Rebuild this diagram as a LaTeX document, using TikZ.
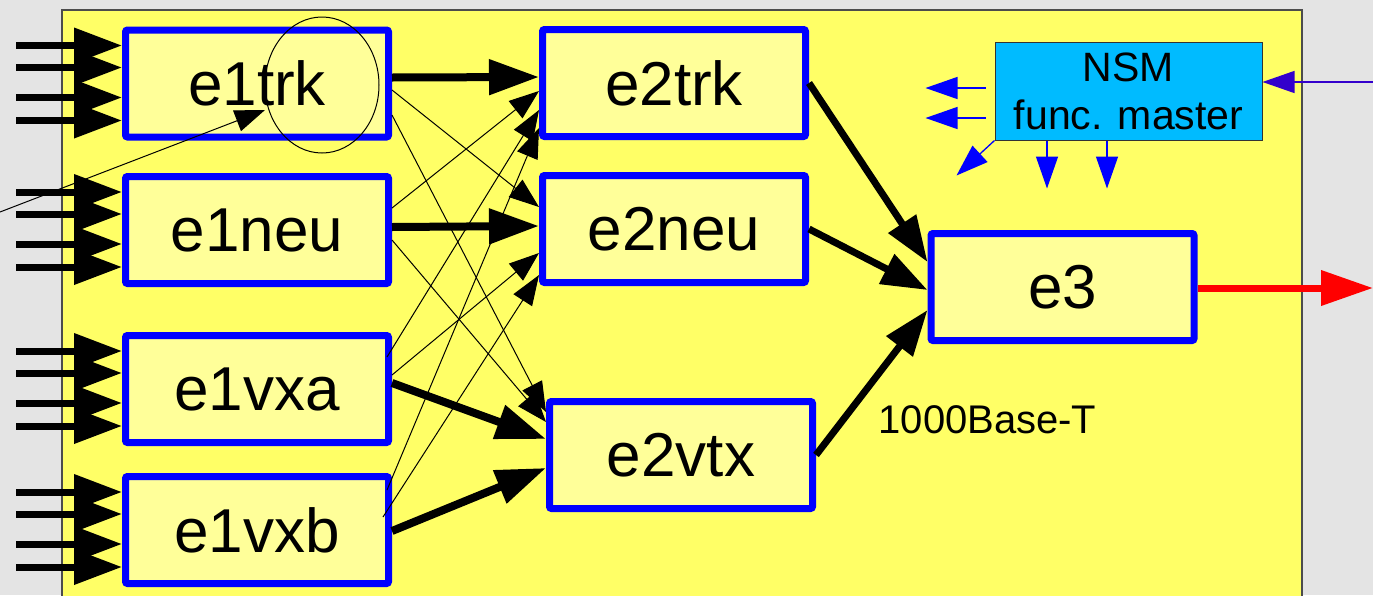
\documentclass[tikz,border=0pt]{standalone}
\usepackage{fontspec}
\setmainfont{Liberation Sans}
\usetikzlibrary{arrows.meta}
\definecolor{slate} {HTML}{E4E4E4}
\definecolor{panelY}{HTML}{FFFF66}
\definecolor{boxY}  {HTML}{FFFF99}
\definecolor{boxB}  {HTML}{0000FF}
\definecolor{nsmC}  {HTML}{00BBFF}
\definecolor{ctlIn} {HTML}{3300CC}

\begin{document}
\begin{tikzpicture}[
  x=1pt,y=-1pt,
  font=\fontsize{62}{70}\selectfont,
  box/.style={draw=boxB,line width=7pt,fill=boxY,rounded corners=2pt,
              minimum width=263pt,minimum height=107pt,inner sep=0pt},
  nsmbox/.style={draw=black!80,line width=1pt,fill=nsmC,align=center,
              minimum width=267pt,minimum height=98pt,inner sep=0pt,
              font=\fontsize{41}{48}\selectfont},
  panel/.style={fill=panelY,draw=black!70,line width=1.5pt},
  inarr/.style={line width=7pt,-{Triangle[length=48pt,width=34pt]}},
  link/.style={line width=8pt,-{Triangle[length=50pt,width=34pt]}},
  uplink/.style={line width=7pt,-{Triangle[length=46pt,width=32pt]}},
  xlink/.style={line width=1pt,-{Triangle[length=30pt,width=22pt]}},
  ctl/.style={draw=boxB,line width=1.3pt,-{Triangle[length=32pt,width=22pt]}},
  outlink/.style={draw=red,line width=7pt,-{Triangle[length=52pt,width=34pt]}},
]

% ---- background and crate panel -------------------------------------------
\useasboundingbox (0,0) rectangle (1373,595);
\clip (0,0) rectangle (1373,595);
\fill[slate] (0,0) rectangle (1373,595);
\draw[panel] (62,10) rectangle (1302,620);

% ---- processor boxes (layered left -> right) -------------------------------
\node[box] (e1trk) at (257,83.5) {e1trk};
\node[box] (e1neu) at (257,230)  {e1neu};
\node[box] (e1vxa) at (257,389)  {e1vxa};
\node[box] (e1vxb) at (257,530)  {e1vxb};

\node[box] (e2trk) at (674,83)   {e2trk};
\node[box] (e2neu) at (674,229)  {e2neu};
\node[box] (e2vtx) at (681,455)  {e2vtx};

\node[box] (e3)    at (1062.5,287) {e3};

\node[nsmbox] (nsm) at (1128.5,91) {NSM\\func. master};
\node[anchor=base west,font=\fontsize{40}{44}\selectfont] (gbe) at (875,433) {1000Base-T};

% ---- inputs into first layer ---------------------------------------------
\foreach \b in {e1trk,e1neu,e1vxa,e1vxb}
  \foreach \dy in {-38,-16,14,37}
    \draw[inarr] ([shift={(-106,\dy)}]\b.west) -- ([shift={(0,\dy)}]\b.west);

% probe onto e1trk
\draw[line width=1pt] (322,85) ellipse [x radius=57, y radius=68];
\coordinate (probe)    at (0,212);
\coordinate (probetip) at (265,110);
\draw[xlink] (probe) -- (probetip);

% ---- first -> second layer ----------------------------------------------
\draw[link] ([shift={(0,-6)}]e1trk.east) -- ([shift={(0,-6)}]e2trk.west);
\draw[link] ([shift={(0,-3)}]e1neu.east) -- ([shift={(0,-3)}]e2neu.west);
\draw[link] ([shift={(0,-6)}]e1vxa.east) -- ([shift={(0,-16)}]e2vtx.west);
\draw[link] ([shift={(0,1)}]e1vxb.east)  -- ([shift={(0,13)}]e2vtx.west);

% cross links
\draw[xlink] ([shift={(0,6.5)}]e1trk.east) -- ([shift={(0,-22)}]e2neu.west);
\draw[xlink] ([shift={(0,31.5)}]e1trk.east) -- ([shift={(0,-43)}]e2vtx.west);
\draw[xlink] ([shift={(0,-22)}]e1neu.east) -- ([shift={(0,8)}]e2trk.west);
\draw[xlink] ([shift={(0,10)}]e1neu.east) -- ([shift={(0,-33)}]e2vtx.west);
\draw[xlink] ([shift={(-5,-32)}]e1vxa.east) -- ([shift={(0,27)}]e2trk.west);
\draw[xlink] ([shift={(0,-14)}]e1vxa.east) -- ([shift={(0,24)}]e2neu.west);
\draw[xlink] ([shift={(-5,-40)}]e1vxb.east) -- ([shift={(0,45)}]e2trk.west);
\draw[xlink] ([shift={(-9,-13)}]e1vxb.east) -- ([shift={(0,46)}]e2neu.west);

% ---- second layer -> e3 -> out ------------------------------------------
\draw[uplink] (e2trk.east) -- ([shift={(0,-25)}]e3.west);
\draw[uplink] (e2neu.east) -- ([shift={(0,3)}]e3.west);
\draw[uplink] (e2vtx.east) -- ([shift={(0,23)}]e3.west);

\coordinate (out) at (1373,288);
\draw[outlink] ([shift={(0,1)}]e3.east) -- (out);

% ---- NSM control lines ----------------------------------------------------
\draw[ctl] ([shift={(-9,-3)}]nsm.west) -- ([shift={(-69,-3)}]nsm.west);
\draw[ctl] ([shift={(-9,27)}]nsm.west) -- ([shift={(-69,27)}]nsm.west);
\draw[ctl] (nsm.south west) -- ([shift={(-38,35)}]nsm.south west);
\draw[ctl] ([shift={(-81.5,0)}]nsm.south) -- ([shift={(-81.5,48)}]nsm.south);
\draw[ctl] ([shift={(-21.5,0)}]nsm.south) -- ([shift={(-21.5,48)}]nsm.south);
\coordinate (nsmfeed) at (1373,82);
\draw[ctl,draw=ctlIn] (nsmfeed) -- ([shift={(0,-9)}]nsm.east);

\end{tikzpicture}
\end{document}
